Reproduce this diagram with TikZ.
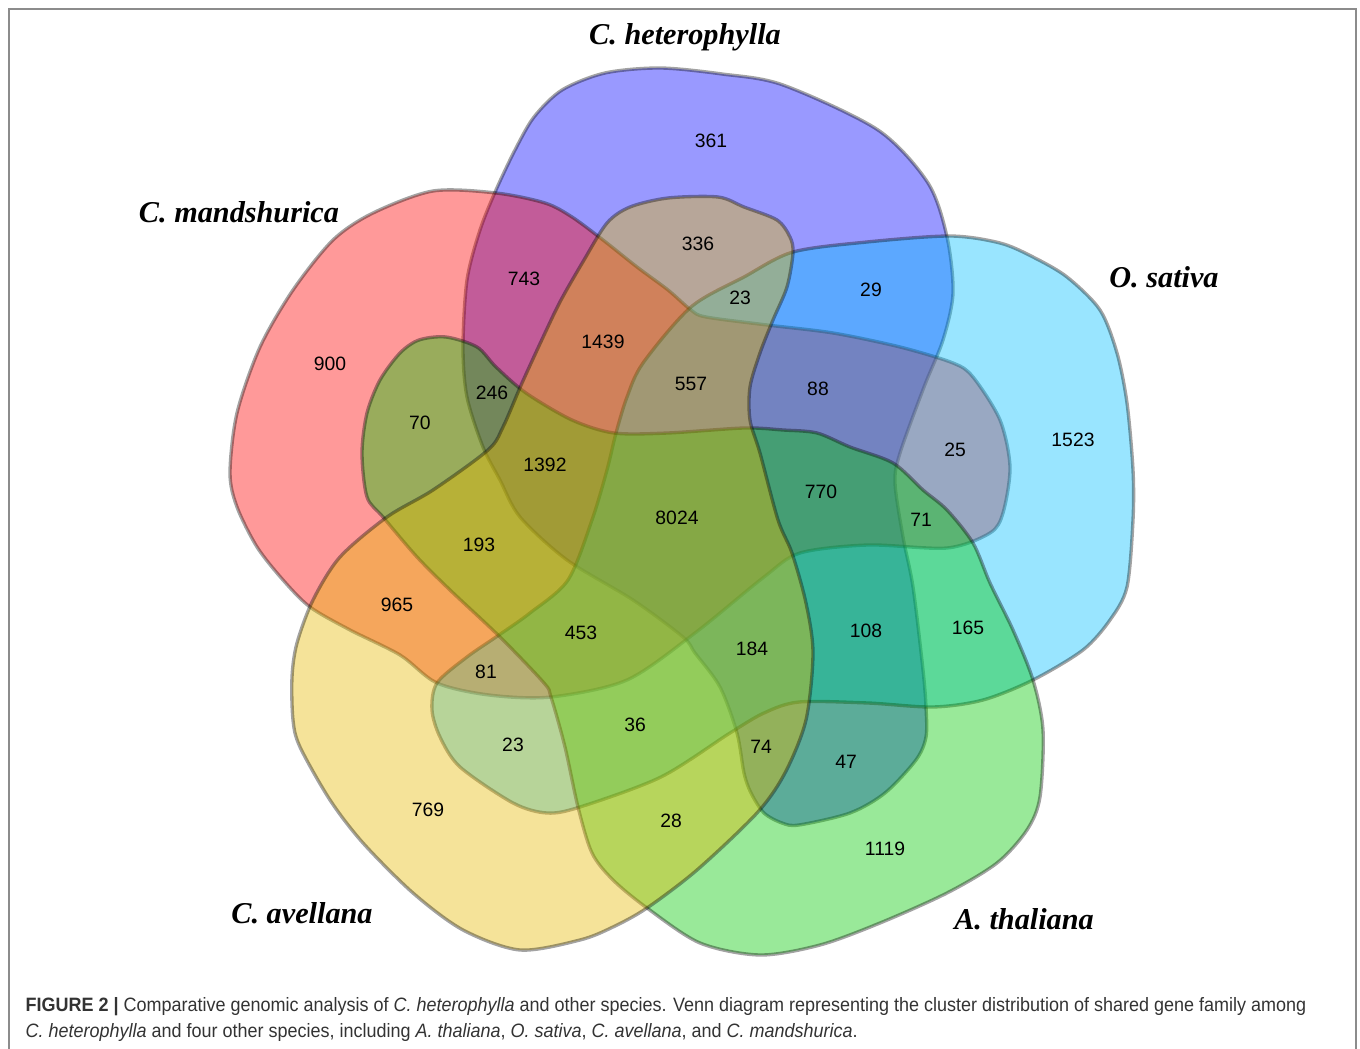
\documentclass[tikz,border=0pt]{standalone}
\usepackage{fontspec}
\setmainfont{Liberation Serif}
\setsansfont{Liberation Sans}
\usetikzlibrary{positioning}

\definecolor{mandred}{RGB}{255,0,0}
\definecolor{hetblue}{RGB}{0,0,255}
\definecolor{satcyan}{RGB}{0,191,255}
\definecolor{thalgreen}{RGB}{0,200,0}
\definecolor{avelyellow}{RGB}{230,185,0}

\begin{document}
\begin{tikzpicture}[x=0.01cm,y=-0.01cm,
  vennset/.style={fill=#1,fill opacity=0.4,draw=black,draw opacity=0.36,line width=0.95pt},
  cnt/.style={font=\sffamily\fontsize{5.5}{6}\selectfont},
  spname/.style={font=\fontsize{8.6}{10}\selectfont\bfseries\itshape},
  capline/.style={anchor=west,inner sep=0pt,text=black!80,font=\sffamily\fontsize{5.5}{6}\selectfont}]
  \useasboundingbox (0,0) rectangle (1360,1049);

  % frame
  \draw[black!45,line width=0.6pt] (9,1049) -- (9,9) -- (1356,9) -- (1356,1049);

  % C. heterophylla
  \filldraw[vennset=hetblue] plot[smooth cycle] coordinates {
    (496,190) (515,150) (534,117) (562,90) (605,73) (660,68) (722,74) (783,85) (878,130)
    (928,183) (947,237) (953,293) (943,340) (924,387) (900,453) (895,483) (903,537)
    (913,587) (923,670) (926,707) (926,737) (916,760) (885,793) (850,813) (799,825)
    (782,823) (764,813) (751,793) (744,773) (737,733) (720,687) (695,653) (683,637)
    (633,600) (567,560) (520,517) (500,480) (483,447) (467,397) (463,347) (467,280)
    (480,230)};

  % C. mandshurica
  \filldraw[vennset=mandred] plot[smooth cycle] coordinates {
    (433,191) (373,213) (333,240) (293,290) (260,347) (237,413) (230,473) (237,507)
    (257,547) (283,580) (310,607) (350,630) (400,655) (437,683) (489,695) (551,697)
    (627,680) (695,633) (764,577) (800,553) (868,545) (947,548) (990,533) (1003,513)
    (1010,467) (1000,420) (973,377) (953,363) (900,347) (833,333) (767,325) (706,317)
    (691,310) (668,290) (637,267) (603,240) (572,217) (545,203) (496,193)};

  % O. sativa
  \filldraw[vennset=satcyan] plot[smooth cycle] coordinates {
    (793,252) (867,242) (950,236) (1000,243) (1033,257) (1067,277) (1100,310) (1117,353)
    (1127,403) (1133,470) (1133,520) (1127,587) (1110,620) (1083,650) (1033,680) (983,700)
    (933,707) (868,703) (799,702) (764,713) (730,733) (661,777) (580,807) (547,813)
    (513,803) (460,767) (440,737) (432,710) (437,683) (467,657) (499,635) (530,613)
    (568,580) (592,520) (607,470) (616,433) (627,397) (643,363) (691,307) (744,277)};

  % A. thaliana
  \filldraw[vennset=thalgreen] plot[smooth cycle] coordinates {
    (362,453) (367,413) (380,380) (400,353) (419,340) (446,337) (477,347) (496,367)
    (526,393) (572,420) (614,433) (668,433) (744,428) (783,430) (817,433) (850,447)
    (893,463) (923,490) (947,510) (973,543) (990,583) (1013,630) (1033,680) (1043,730)
    (1040,797) (1027,830) (997,863) (947,893) (880,923) (820,945) (760,955) (700,943)
    (647,908) (613,880) (592,853) (578,807) (565,747) (551,697) (544,683) (500,637)
    (450,590) (417,557) (383,517) (367,497)};

  % C. avellana
  \filldraw[vennset=avelyellow] plot[smooth cycle] coordinates {
    (313,600) (297,643) (292,677) (293,720) (300,747) (330,800) (363,843) (413,893)
    (463,930) (520,950) (580,940) (613,927) (647,908) (697,870) (757,813) (785,773)
    (806,720) (813,653) (806,603) (792,553) (778,520) (760,453) (750,420) (750,387)
    (760,353) (773,320) (787,287) (793,253) (790,237) (777,220) (744,207) (718,197)
    (668,198) (630,207) (607,223) (584,260) (561,300) (545,333) (522,383) (503,427)
    (488,450) (433,490) (387,517) (340,557)};

  % species names
  \node[spname] (het) at (685,37) {C. heterophylla};
  \node[spname] (man) at (239,212) {C. mandshurica};
  \node[spname] (sat) at (1164,277) {O. sativa};
  \node[spname] (ave) at (302,913) {C. avellana};
  \node[spname] (tha) at (1024,919) {A. thaliana};

  % cluster counts
  \node[cnt] (n361) at (711,141) {361};
  \node[cnt] (n336) at (698,244) {336};
  \node[cnt] (n743) at (524,279) {743};
  \node[cnt] (n29) at (871,290) {29};
  \node[cnt] (n23a) at (740,298) {23};
  \node[cnt] (n1439) at (603,342) {1439};
  \node[cnt] (n900) at (330,364) {900};
  \node[cnt] (n557) at (691,384) {557};
  \node[cnt] (n88) at (818,389) {88};
  \node[cnt] (n246) at (492,393) {246};
  \node[cnt] (n70) at (420,423) {70};
  \node[cnt] (n1392) at (545,465) {1392};
  \node[cnt] (n25) at (955,450) {25};
  \node[cnt] (n1523) at (1073,440) {1523};
  \node[cnt] (n8024) at (677,518) {8024};
  \node[cnt] (n770) at (821,492) {770};
  \node[cnt] (n71) at (921,520) {71};
  \node[cnt] (n193) at (479,545) {193};
  \node[cnt] (n965) at (397,605) {965};
  \node[cnt] (n453) at (581,633) {453};
  \node[cnt] (n184) at (752,649) {184};
  \node[cnt] (n108) at (866,631) {108};
  \node[cnt] (n165) at (968,628) {165};
  \node[cnt] (n81) at (486,672) {81};
  \node[cnt] (n36) at (635,725) {36};
  \node[cnt] (n74) at (761,747) {74};
  \node[cnt] (n47) at (846,762) {47};
  \node[cnt] (n23b) at (513,745) {23};
  \node[cnt] (n769) at (428,810) {769};
  \node[cnt] (n28) at (671,821) {28};
  \node[cnt] (n1119) at (885,849) {1119};

  % caption
  \node[capline] (cap1) at (25,1007) {\scalebox{0.93}[1]{\textbf{FIGURE 2 |} Comparative genomic analysis of \textit{C. heterophylla} and other species. Venn diagram representing the cluster distribution of shared gene family among}};
  \node[capline] (cap2) at (25,1032) {\scalebox{0.93}[1]{\textit{C. heterophylla} and four other species, including \textit{A. thaliana}, \textit{O. sativa}, \textit{C. avellana}, and \textit{C. mandshurica}.}};
\end{tikzpicture}
\end{document}
